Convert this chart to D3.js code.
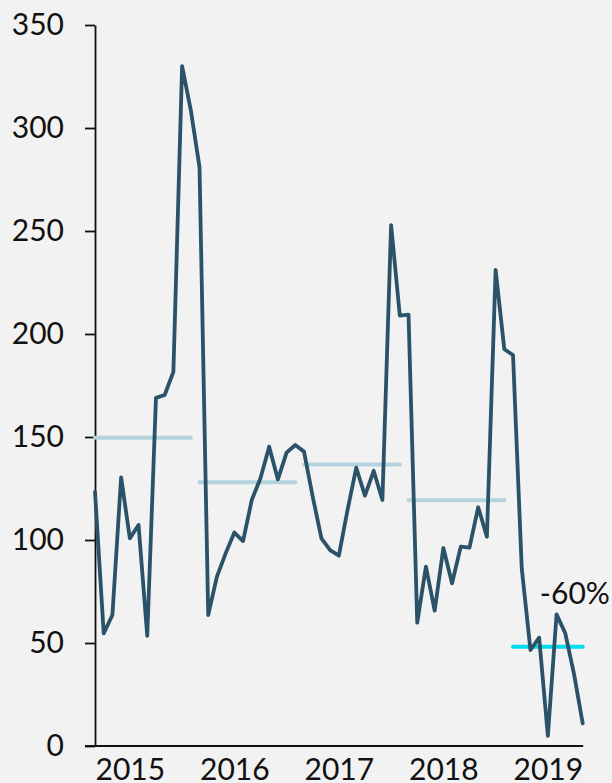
<!DOCTYPE html>
<html>
<head>
<meta charset="utf-8">
<script src="https://cdn.jsdelivr.net/npm/d3@7"></script>
<style>
  html, body { margin: 0; padding: 0; background: #f2f2f2; }
  svg { display: block; }
  text { font-family: Lato, "Noto Sans", sans-serif; fill: #111; }
</style>
</head>
<body>
<svg id="chart" width="612" height="783"></svg>
<script>
// Monthly values, Jan 2015 – Sep 2019
const values = [
  123.4, 54.7, 63.6, 130.4, 100.8, 107.3, 53.5, 169.0, 170.4, 181.6, 330.0, 308.7,
  281.0, 63.6, 82.2, 93.5, 103.6, 99.5, 119.4, 130.0, 145.3, 129.4, 142.4, 146.1,
  142.9, 121.0, 100.8, 95.1, 92.4, 114.6, 135.1, 121.5, 133.6, 119.4, 252.9, 208.9,
  209.4, 59.9, 87.1, 65.7, 96.1, 79.0, 96.8, 96.3, 115.9, 101.6, 231.1, 192.6,
  189.8, 86.3, 46.6, 52.6, 4.9, 63.9, 54.7, 35.0, 11.0
];
const years = ["2015", "2016", "2017", "2018", "2019"];
const yearAverages = [149.6, 128.0, 136.7, 119.3, 48.2];
const yTicks = [0, 50, 100, 150, 200, 250, 300, 350];
const annotation = "-60%";

const svg = d3.select("#chart");
const x = d3.scaleLinear().domain([0, values.length - 1]).range([95, 582.7]);
const y = d3.scaleLinear().domain([0, 350]).range([746, 25]);

// Y axis
const yAxis = svg.append("g")
  .attr("transform", `translate(${x(0)},0)`)
  .call(d3.axisLeft(y).tickValues(yTicks).tickSize(10).tickSizeOuter(0).tickPadding(21));
yAxis.select(".domain").attr("stroke", "#111").attr("stroke-width", 1.8);
yAxis.selectAll(".tick line").attr("stroke", "#111").attr("stroke-width", 1.8);
yAxis.selectAll(".tick text")
  .style("font-family", "Lato, 'Noto Sans', sans-serif")
  .style("font-size", "30px").attr("fill", "#111");

// X axis
const xAxis = svg.append("g")
  .attr("transform", `translate(0,${y(0)})`)
  .call(d3.axisBottom(x).tickValues(years.map((d, i) => i * 12))
    .tickFormat((d, i) => years[i]).tickSize(0).tickSizeOuter(0).tickPadding(13));
xAxis.select(".domain").remove();
xAxis.append("line")
  .attr("x1", x(0) - 10).attr("x2", x(values.length - 1) + 0.5)
  .attr("y1", 0).attr("y2", 0)
  .attr("stroke", "#111").attr("stroke-width", 1.8);
xAxis.selectAll(".tick text")
  .attr("text-anchor", "start").attr("dy", "0.71em")
  .style("font-family", "Lato, 'Noto Sans', sans-serif")
  .style("font-size", "30px").attr("fill", "#111");

// Yearly average lines
svg.append("g").selectAll("line")
  .data(yearAverages)
  .join("line")
  .attr("x1", (d, i) => x(i * 12))
  .attr("x2", (d, i) => x(Math.min(i * 12 + 11, values.length - 1)))
  .attr("y1", d => y(d)).attr("y2", d => y(d))
  .attr("stroke", (d, i) => i === yearAverages.length - 1 ? "#00dcee" : "#b3d3df")
  .attr("stroke-width", 4)
  .attr("stroke-linecap", "round");

// Main line
const line = d3.line().x((d, i) => x(i)).y(d => y(d));
svg.append("path")
  .datum(values)
  .attr("d", line)
  .attr("fill", "none")
  .attr("stroke", "#2a5269")
  .attr("stroke-width", 3.8)
  .attr("stroke-linejoin", "round")
  .attr("stroke-linecap", "round");

// Annotation
svg.append("text")
  .attr("x", x(52) - 8)
  .attr("y", y(yearAverages[4]) - 43)
  .style("font-size", "30px")
  .text(annotation);
</script>
</body>
</html>
